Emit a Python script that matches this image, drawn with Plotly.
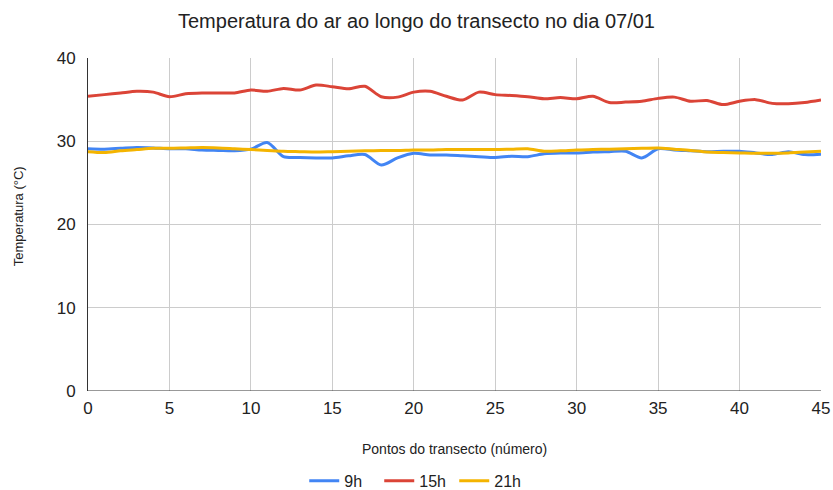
import plotly.graph_objects as go

pontos = list(range(46))

temp_9h = [29.1, 29.05, 29.15, 29.25, 29.2, 29.1, 29.1, 28.95, 28.9, 28.85,
           29.05, 29.85, 28.15, 28.05, 28.0, 28.0, 28.25, 28.4, 27.15, 28.0,
           28.55, 28.35, 28.35, 28.25, 28.15, 28.05, 28.2, 28.15, 28.5, 28.6,
           28.6, 28.7, 28.75, 28.8, 28.0, 29.1, 28.95, 28.85, 28.75, 28.8,
           28.8, 28.6, 28.4, 28.75, 28.4, 28.45]

temp_15h = [35.4, 35.6, 35.8, 36.0, 35.9, 35.35, 35.7, 35.8, 35.8, 35.8,
            36.15, 36.0, 36.35, 36.15, 36.75, 36.55, 36.3, 36.6, 35.35, 35.3,
            35.9, 36.0, 35.4, 34.95, 35.9, 35.6, 35.5, 35.35, 35.1, 35.25,
            35.1, 35.4, 34.65, 34.7, 34.8, 35.15, 35.3, 34.8, 34.9, 34.4,
            34.8, 35.0, 34.55, 34.5, 34.65, 34.95]

temp_21h = [28.75, 28.65, 28.85, 29.0, 29.15, 29.15, 29.2, 29.25, 29.2, 29.1,
            29.0, 28.9, 28.8, 28.75, 28.7, 28.75, 28.8, 28.85, 28.9, 28.9,
            28.95, 28.95, 29.0, 29.0, 29.0, 29.0, 29.05, 29.1, 28.8, 28.85,
            28.95, 29.0, 29.05, 29.1, 29.15, 29.2, 29.05, 28.9, 28.7, 28.65,
            28.6, 28.55, 28.55, 28.6, 28.7, 28.8]

series = [("9h", temp_9h, "#4285F4"),
          ("15h", temp_15h, "#DB4437"),
          ("21h", temp_21h, "#F4B400")]

fig = go.Figure()
for nome, valores, cor in series:
    fig.add_trace(go.Scatter(x=pontos, y=valores, name=nome, mode="lines",
                             line=dict(color=cor, width=3, shape="spline", smoothing=0.8)))

fig.update_layout(
    width=833, height=490,
    margin=dict(l=88, r=12, t=58, b=99, autoexpand=False),
    paper_bgcolor="white", plot_bgcolor="white",
    font=dict(family="Arial, Liberation Sans, sans-serif", size=17, color="#222222"),
    title=dict(text="Temperatura do ar ao longo do transecto no dia 07/01",
               x=0.5, xanchor="center", y=0.957, yanchor="middle",
               font=dict(size=20, color="#222222")),
    showlegend=True,
    legend=dict(orientation="h", x=0.295, xanchor="left", y=-0.27, yanchor="middle",
                font=dict(size=16, color="#222222"), itemwidth=30,
                entrywidth=30, entrywidthmode="pixels"),
    annotations=[
        dict(text="Temperatura (°C)", textangle=-90, x=-0.095, y=0.526,
             xref="paper", yref="paper", showarrow=False,
             xanchor="center", yanchor="middle",
             font=dict(size=13, color="#222222")),
        dict(text="Pontos do transecto (número)", x=0.5, y=-0.174,
             xref="paper", yref="paper", showarrow=False,
             xanchor="center", yanchor="middle",
             font=dict(size=14, color="#222222")),
    ],
)

fig.update_xaxes(range=[0, 45], tickvals=list(range(0, 46, 5)),
                 showgrid=True, gridcolor="#cccccc", gridwidth=1,
                 zeroline=False, showline=False, ticks="",
                 automargin=False, ticklabelstandoff=5)
fig.update_yaxes(range=[0, 40], tickvals=[0, 10, 20, 30, 40],
                 showgrid=True, gridcolor="#cccccc", gridwidth=1,
                 zeroline=False, showline=True, linecolor="#333333", linewidth=1,
                 ticks="", automargin=False, ticklabelstandoff=8)

# linha do eixo x (y = 0) mais escura
fig.add_hline(y=0, line=dict(color="#333333", width=1))

# tirar a margem padrão do <body> para a figura ocupar a janela toda
fig.write_html("out.html", config={"displayModeBar": False},
               post_script="document.body.style.margin='0';")
